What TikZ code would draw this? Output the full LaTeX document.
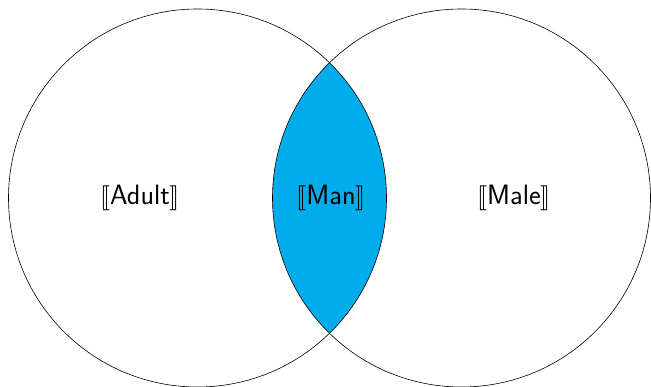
\documentclass[tikz,border=0pt]{standalone}
\usepackage{stmaryrd}
\definecolor{lensblue}{RGB}{0,172,236}
\begin{document}
\begin{tikzpicture}[x=1pt,y=-1pt,
  setline/.style={draw=black,line width=0.6pt},
  setlabel/.style={font=\sffamily\fontsize{28}{33}\selectfont,inner sep=0pt}]
\useasboundingbox (0,0) rectangle (651,387);
\coordinate (cA) at (197.5,198);
\coordinate (cB) at (461.5,198);
\begin{scope}
  \clip (cA) circle[radius=189];
  \fill[lensblue] (cB) circle[radius=189];
\end{scope}
\draw[setline] (cA) circle[radius=189];
\draw[setline] (cB) circle[radius=189];
\node[setlabel] (adult) at (140,198) {$\llbracket$Adult$\rrbracket$};
\node[setlabel] (man) at (331,198) {$\llbracket$Man$\rrbracket$};
\node[setlabel] (male) at (514,198) {$\llbracket$Male$\rrbracket$};
\end{tikzpicture}
\end{document}
